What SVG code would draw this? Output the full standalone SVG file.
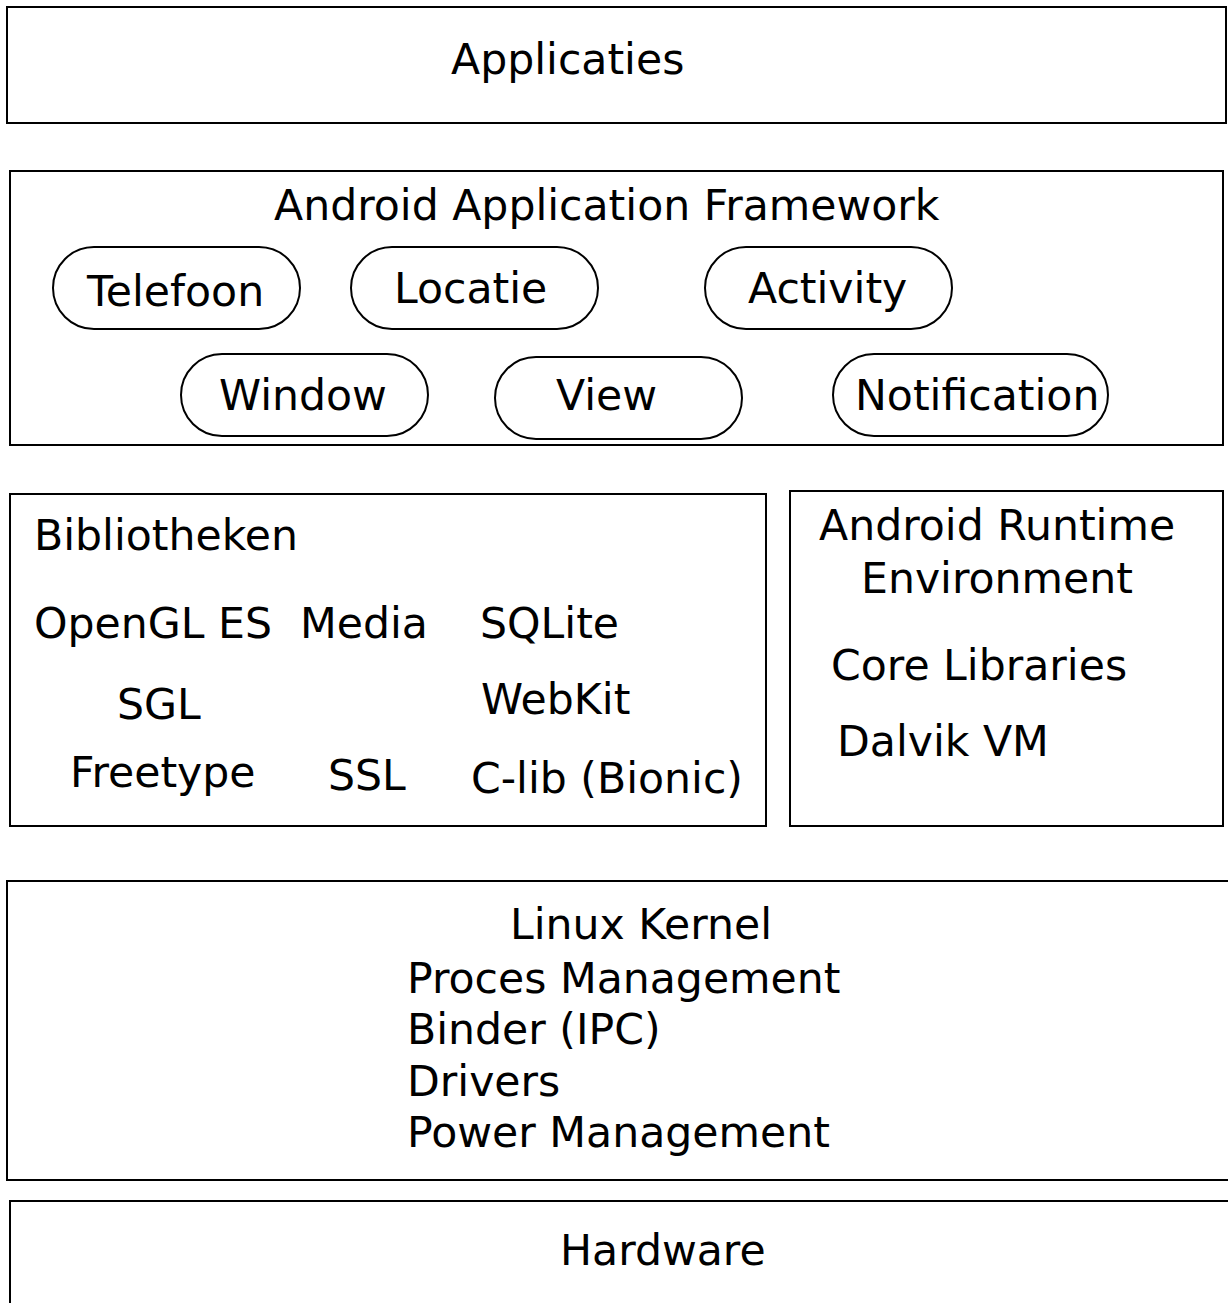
<svg xmlns="http://www.w3.org/2000/svg" width="1228" height="1303" viewBox="0 0 1228 1303">
<style>
.box{fill:#fff;stroke:#000;stroke-width:2}
.pill{fill:#fff;stroke:#000;stroke-width:2}
text{font-family:"DejaVu Sans",sans-serif;font-size:42.6px;fill:#000}
</style>
<rect width="1228" height="1303" fill="#fff"/>
<g id="applicaties">
<rect class="box" x="7" y="7" width="1219" height="116"/>
<text x="451" y="74">Applicaties</text>
</g>
<g id="framework">
<rect class="box" x="10" y="171" width="1213" height="274"/>
<text x="274" y="220">Android Application Framework</text>
</g>
<g id="telefoon">
<rect class="pill" x="53" y="247" width="247" height="82" rx="41"/>
<text x="87" y="306">Telefoon</text>
</g>
<g id="locatie">
<rect class="pill" x="351" y="247" width="247" height="82" rx="41"/>
<text x="394" y="303">Locatie</text>
</g>
<g id="activity">
<rect class="pill" x="705" y="247" width="247" height="82" rx="41"/>
<text x="748" y="303">Activity</text>
</g>
<g id="window">
<rect class="pill" x="181" y="354" width="247" height="82" rx="41"/>
<text x="219" y="410">Window</text>
</g>
<g id="view">
<rect class="pill" x="495" y="357" width="247" height="82" rx="41"/>
<text x="556" y="410">View</text>
</g>
<g id="notification">
<rect class="pill" x="833" y="354" width="275" height="82" rx="41"/>
<text x="855" y="410">Notification</text>
</g>
<g id="bibliotheken">
<rect class="box" x="10" y="494" width="756" height="332"/>
<text x="34" y="550">Bibliotheken</text>
<text x="34" y="638">OpenGL ES</text>
<text x="300" y="638">Media</text>
<text x="480" y="638">SQLite</text>
<text x="117" y="719">SGL</text>
<text x="481" y="714">WebKit</text>
<text x="70" y="787">Freetype</text>
<text x="328" y="790">SSL</text>
<text x="471" y="793">C-lib (Bionic)</text>
</g>
<g id="runtime">
<rect class="box" x="790" y="491" width="433" height="335"/>
<text x="819" y="540">Android Runtime</text>
<text x="861" y="593">Environment</text>
<text x="831" y="680">Core Libraries</text>
<text x="837" y="756">Dalvik VM</text>
</g>
<g id="kernel">
<rect class="box" x="7" y="881" width="1230" height="299"/>
<text x="510" y="939">Linux Kernel</text>
<text x="407" y="993">Proces Management</text>
<text x="407" y="1044">Binder (IPC)</text>
<text x="407" y="1096">Drivers</text>
<text x="407" y="1147">Power Management</text>
</g>
<g id="hardware">
<rect class="box" x="10" y="1201" width="1230" height="120"/>
<text x="560" y="1265">Hardware</text>
</g>
<g id="connectors"></g>
</svg>
